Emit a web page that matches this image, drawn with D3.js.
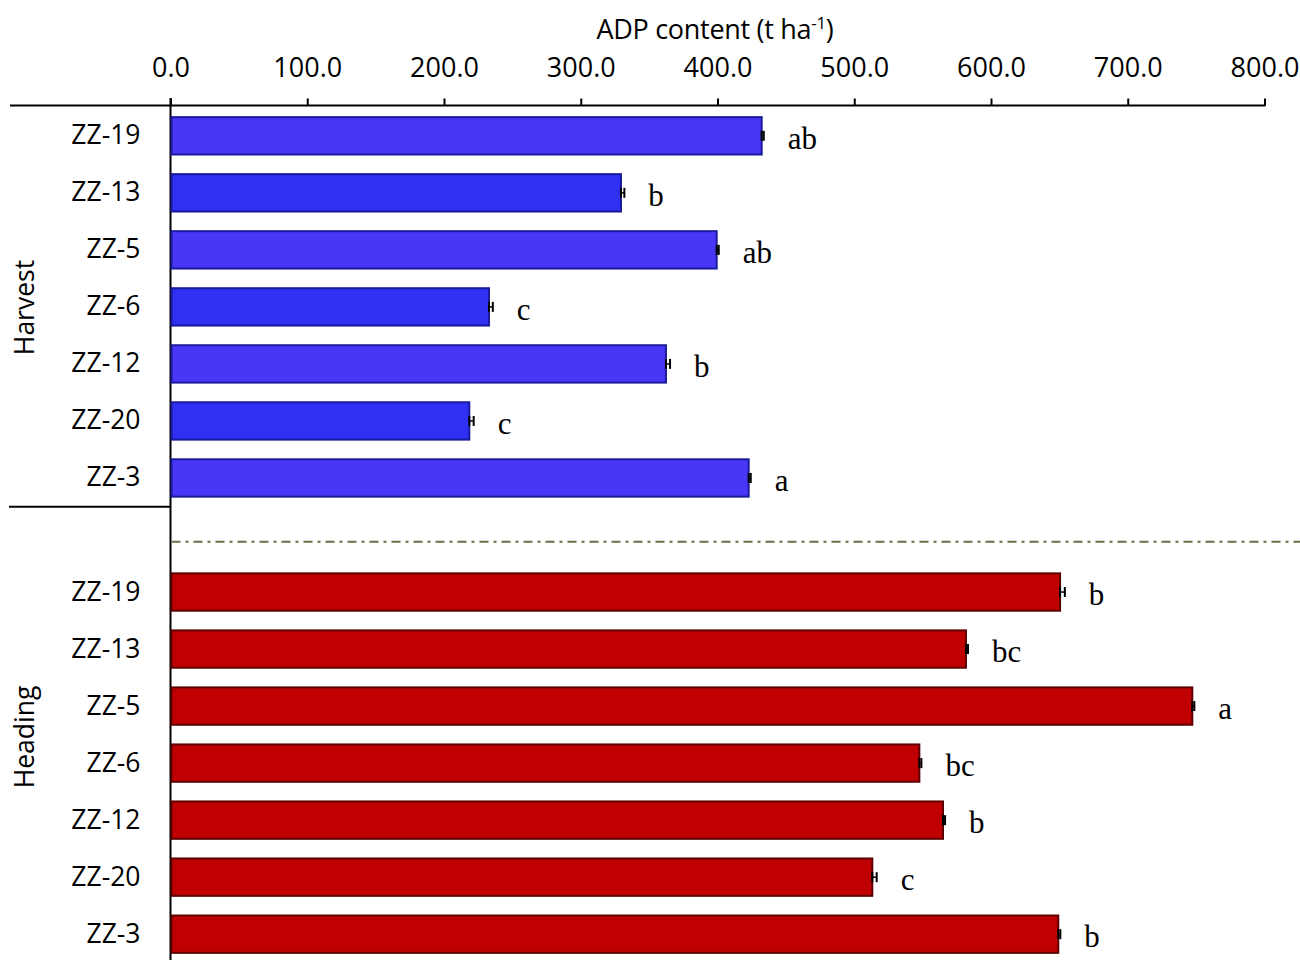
<!DOCTYPE html>
<html>
<head>
<meta charset="utf-8">
<script src="https://cdn.jsdelivr.net/npm/d3@7"></script>
<style>
  html, body { margin: 0; padding: 0; background: #fff; }
  svg { display: block; }
</style>
</head>
<body>
<svg id="chart" width="1300" height="960"></svg>
<script>
// ---- data ----
const categories = ["ZZ-19", "ZZ-13", "ZZ-5", "ZZ-6", "ZZ-12", "ZZ-20", "ZZ-3"];
const stages = ["Harvest", "Heading"];
const harvestValues = [432.3, 329.4, 399.4, 232.9, 362.3, 218.5, 422.8];
const harvestErrors = [1.5, 2.5, 1.5, 2.8, 3.0, 3.2, 1.5];
const harvestLetters = ["ab", "b", "ab", "c", "b", "c", "a"];
const headingValues = [650.5, 581.7, 747.2, 547.6, 564.9, 513.2, 649.2];
const headingErrors = [3.5, 1.5, 1.5, 1.5, 1.5, 3.2, 1.5];
const headingLetters = ["b", "bc", "a", "bc", "b", "c", "b"];
const xTicks = [0, 100, 200, 300, 400, 500, 600, 700, 800];
const xTitle = "ADP content (t ha";

// ---- build rows ----
const rows = [];
categories.forEach((c, i) => rows.push({key: "H-" + c, cat: c, stage: 0, idx: i,
  v: harvestValues[i], e: harvestErrors[i], l: harvestLetters[i]}));
const gapKey = "gap";
categories.forEach((c, i) => rows.push({key: "D-" + c, cat: c, stage: 1, idx: i,
  v: headingValues[i], e: headingErrors[i], l: headingLetters[i]}));
const domain = rows.slice(0, 7).map(d => d.key).concat([gapKey], rows.slice(7).map(d => d.key));

const svg = d3.select("#chart");
const sansFont = "'Open Sans', 'Noto Sans', sans-serif";
const serifFont = "'Liberation Serif', 'DejaVu Serif', serif";

const x = d3.scaleLinear().domain([0, 800]).range([170.5, 1264.5]);
const y = d3.scaleBand().domain(domain).range([107.3, 962.7])
  .paddingInner(0.345).paddingOuter(0.1725);

const axisY = 105.5;

// Top axis
const gx = svg.append("g").attr("transform", `translate(0,${axisY})`)
  .call(d3.axisTop(x).tickValues(xTicks).tickFormat(d3.format(".1f"))
    .tickSize(7).tickPadding(22));
gx.select(".domain").remove();
gx.selectAll(".tick line").attr("stroke", "#000").attr("stroke-width", 2);
gx.selectAll(".tick text").attr("font-family", sansFont).attr("font-size", 27)
  .attr("fill", "#000");
svg.append("line").attr("x1", 10).attr("x2", x(800) + 1).attr("y1", axisY).attr("y2", axisY)
  .attr("stroke", "#000").attr("stroke-width", 2);

// axis title
const title = svg.append("text").attr("x", 715).attr("y", 39).attr("text-anchor", "middle")
  .attr("font-family", sansFont).attr("font-size", 27).attr("fill", "#000")
  .attr("letter-spacing", -0.3);
title.append("tspan").text(xTitle);
title.append("tspan").text("-1").attr("font-size", 17).attr("dy", -10);
title.append("tspan").text(")").attr("dy", 10);

// Left axis labels
const gy = svg.append("g").attr("transform", `translate(${x(0)},0)`)
  .call(d3.axisLeft(y).tickValues(rows.map(d => d.key))
    .tickFormat(k => k.slice(2)).tickSize(0).tickPadding(30));
gy.select(".domain").remove();
gy.selectAll(".tick text").attr("font-family", sansFont).attr("font-size", 26.5)
  .attr("fill", "#000");

// vertical axis line
svg.append("line").attr("x1", x(0)).attr("x2", x(0)).attr("y1", 98).attr("y2", 960)
  .attr("stroke", "#000").attr("stroke-width", 2);
// separator between groups
svg.append("line").attr("x1", 9).attr("x2", x(0)).attr("y1", 506.7).attr("y2", 506.7)
  .attr("stroke", "#000").attr("stroke-width", 2);
// dash-dot line
svg.append("line").attr("x1", x(0) + 1).attr("x2", 1300).attr("y1", 541.7).attr("y2", 541.7)
  .attr("stroke", "#6e6e4c").attr("stroke-width", 2).attr("stroke-dasharray", "9,5,3,5");

// error bars (drawn first, the bars cover the inner half)
const eb = svg.append("g").selectAll("g").data(rows).join("g")
  .attr("transform", d => `translate(0,${y(d.key) + y.bandwidth() / 2})`);
eb.append("line").attr("x1", d => x(d.v - d.e)).attr("x2", d => x(d.v + d.e))
  .attr("y1", 0).attr("y2", 0).attr("stroke", "#000").attr("stroke-width", 1.5);
eb.append("line").attr("x1", d => x(d.v + d.e)).attr("x2", d => x(d.v + d.e))
  .attr("y1", -5).attr("y2", 5).attr("stroke", "#000").attr("stroke-width", 2);

// Bars
const fillFor = d => d.stage === 0 ? (d.idx % 2 === 0 ? "#4a36f6" : "#3030f2") : "#c00000";
const strokeFor = d => d.stage === 0 ? "#1a1a9c" : "#5c0000";

svg.append("g").selectAll("rect").data(rows).join("rect")
  .attr("x", x(0) + 1)
  .attr("y", d => y(d.key))
  .attr("width", d => x(d.v) - x(0) - 1)
  .attr("height", y.bandwidth())
  .attr("fill", fillFor)
  .attr("stroke", strokeFor)
  .attr("stroke-width", 2);

// dark end mark of the error bar at the bar tip
svg.append("g").selectAll("line").data(rows).join("line")
  .attr("x1", d => x(d.v)).attr("x2", d => x(d.v))
  .attr("y1", d => y(d.key) + y.bandwidth() / 2 - 5)
  .attr("y2", d => y(d.key) + y.bandwidth() / 2 + 5)
  .attr("stroke", "#000").attr("stroke-width", 2);

// letters
svg.append("g").selectAll("text").data(rows).join("text")
  .attr("x", d => x(d.v + d.e) + 24)
  .attr("y", d => y(d.key) + y.bandwidth() / 2 + 13)
  .attr("font-family", serifFont).attr("font-size", 31).attr("fill", "#000")
  .text(d => d.l);

// stage labels
const stageCenters = [307.5, 737];
svg.append("g").selectAll("text").data(stages).join("text")
  .attr("transform", (d, i) => `translate(34,${stageCenters[i]}) rotate(-90)`)
  .attr("text-anchor", "middle")
  .attr("font-family", sansFont).attr("font-size", 26.5).attr("fill", "#000")
  .text(d => d);
</script>
</body>
</html>
